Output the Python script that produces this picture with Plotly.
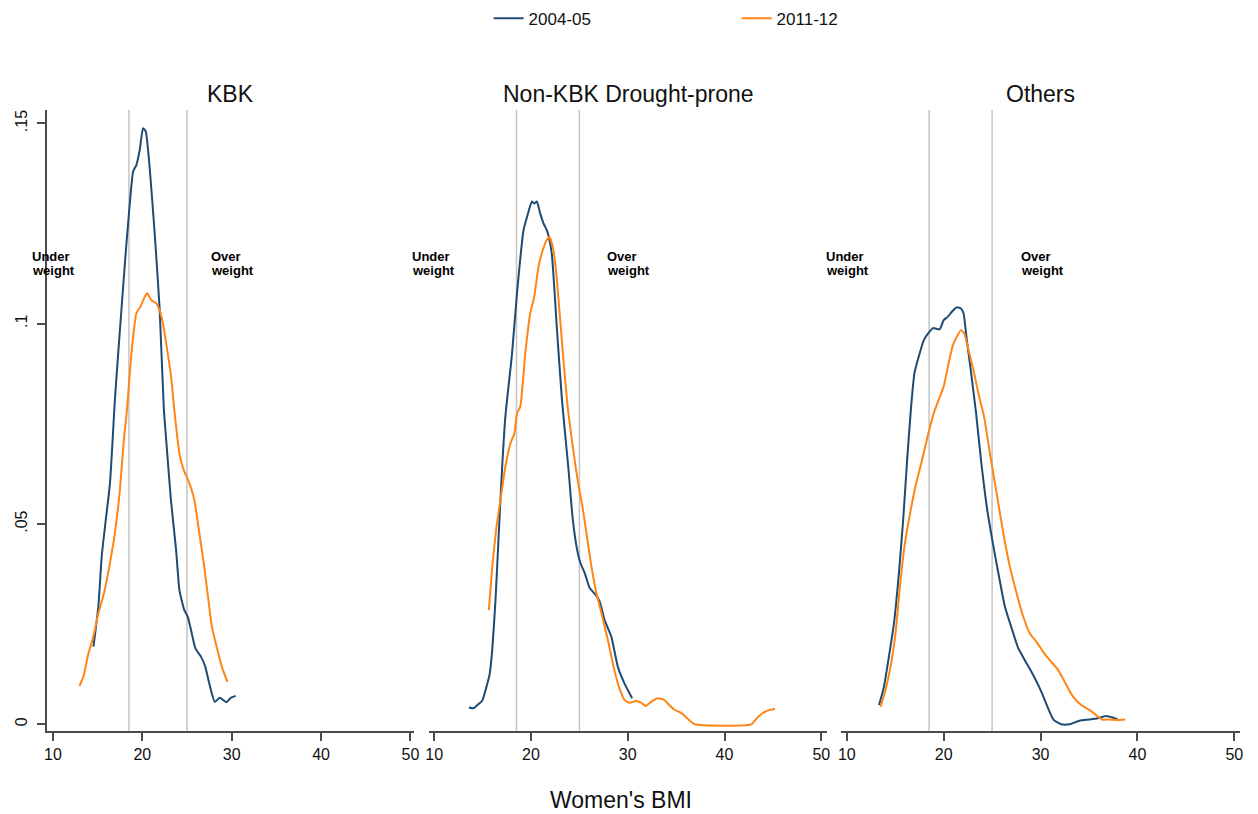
import plotly.graph_objects as go

# ---------------- data ----------------
panels = ["KBK", "Non-KBK Drought-prone", "Others"]
series_names = ["2004-05", "2011-12"]
cutoffs = [18.5, 25]
x_ticks = [10, 20, 30, 40, 50]
y_ticks = [0, 0.05, 0.1, 0.15]
y_ticktext = ["0", ".05", ".1", ".15"]

kbk_0405_bmi = [14.53, 15.08, 15.45, 15.82, 16.38, 16.93, 17.3, 18.08, 18.52, 18.97, 19.33, 19.71, 20.08,
                20.38, 20.82, 21.38, 21.93, 22.4, 22.67, 23.2, 23.78, 24.15, 24.7, 25.08, 25.45, 25.93,
                26.56, 27.04, 27.49, 28.11, 28.67, 29.41, 29.89, 30.44]
kbk_0405_den = [0.0194, 0.0294, 0.0418, 0.0493, 0.0602, 0.081, 0.0926, 0.116, 0.128, 0.138, 0.1396, 0.1434,
                0.1488, 0.148, 0.139, 0.1226, 0.104, 0.079, 0.071, 0.056, 0.0435, 0.0335, 0.0285, 0.0269,
                0.0235, 0.019, 0.0169, 0.0144, 0.0102, 0.0056, 0.0066, 0.0055, 0.0066, 0.0071]

kbk_1112_bmi = [12.97, 13.41, 13.97, 14.52, 15.08, 15.71, 16.3, 16.93, 17.49, 17.93, 18.26, 18.78, 19.33,
                19.78, 20.27, 20.56, 21.0, 21.56, 21.93, 22.3, 22.67, 23.22, 23.55, 23.78, 24.15, 24.63,
                25.27, 25.82, 26.38, 26.93, 27.3, 27.78, 28.41, 28.89, 29.52]
kbk_1112_den = [0.0096, 0.0119, 0.0177, 0.0219, 0.0277, 0.0327, 0.0393, 0.0477, 0.0585, 0.071, 0.078,
                0.0926, 0.1026, 0.1042, 0.1067, 0.1076, 0.1059, 0.1051, 0.1034, 0.1001, 0.0951, 0.0868,
                0.079, 0.0743, 0.0676, 0.0635, 0.0602, 0.056, 0.0477, 0.0393, 0.0327, 0.0244, 0.0185,
                0.0144, 0.0106]

nkbk_0405_bmi = [13.59, 14.04, 14.45, 14.96, 15.4, 15.74, 15.99, 16.33, 16.67, 17.02, 17.35, 18.04, 18.55,
                 19.23, 19.64, 20.09, 20.33, 20.6, 20.94, 21.28, 21.69, 22.14, 22.66, 23.2, 23.85, 24.29,
                 24.71, 25.12, 25.56, 26.07, 26.69, 27.1, 27.61, 28.3, 28.97, 29.66, 30.45]
nkbk_0405_den = [0.0042, 0.004, 0.0048, 0.0059, 0.0094, 0.0127, 0.0185, 0.031, 0.0477, 0.0643, 0.0768,
                 0.0926, 0.1076, 0.1234, 0.1271, 0.1305, 0.13, 0.1305, 0.1276, 0.1251, 0.123, 0.1176,
                 0.0993, 0.081, 0.0643, 0.0518, 0.0443, 0.0402, 0.0377, 0.034, 0.0323, 0.0306, 0.026,
                 0.0219, 0.0144, 0.0102, 0.0065]

nkbk_1112_bmi = [15.64, 15.99, 16.43, 16.84, 17.35, 17.87, 18.28, 18.55, 18.89, 19.41, 19.92, 20.33, 20.77,
                 21.22, 21.63, 21.9, 22.25, 22.58, 22.99, 23.41, 23.8, 24.36, 24.87, 25.32, 25.73, 26.25,
                 26.76, 27.37, 27.95, 28.53, 29.08, 29.66, 30.17, 30.86, 31.37, 31.88, 32.4, 33.08, 33.76,
                 34.28, 34.79, 35.48, 36.15, 36.94, 42.76, 43.33, 44.02, 44.7, 45.22]
nkbk_1112_den = [0.0285, 0.0393, 0.0493, 0.056, 0.0643, 0.0701, 0.0726, 0.0776, 0.0793, 0.0926, 0.1026,
                 0.1067, 0.1142, 0.1184, 0.1209, 0.1217, 0.1192, 0.1134, 0.1017, 0.0893, 0.079, 0.0685,
                 0.0602, 0.0543, 0.0477, 0.0393, 0.0327, 0.0269, 0.021, 0.0144, 0.0094, 0.0061, 0.0054,
                 0.0058, 0.0054, 0.0046, 0.0056, 0.0065, 0.0061, 0.0048, 0.0037, 0.0029, 0.0015, 0.0,
                 0.0, 0.0015, 0.0029, 0.0036, 0.0038]

oth_0405_bmi = [13.33, 13.84, 14.35, 14.87, 15.38, 15.82, 16.23, 16.64, 16.98, 17.43, 17.95, 18.46, 18.9,
                19.59, 20.0, 20.41, 20.85, 21.37, 21.78, 22.05, 22.39, 22.8, 23.35, 23.93, 24.45, 24.96,
                25.65, 26.32, 27.19, 27.7, 28.38, 29.24, 30.09, 30.78, 31.36, 32.15, 33.0, 34.02, 35.05,
                35.91, 36.77, 37.45, 37.97]
oth_0405_den = [0.0048, 0.0094, 0.0169, 0.0252, 0.0377, 0.051, 0.066, 0.0793, 0.0876, 0.0918, 0.0959,
                0.0978, 0.0989, 0.0986, 0.1009, 0.1017, 0.103, 0.1041, 0.1038, 0.1026, 0.0959, 0.0884,
                0.0776, 0.0643, 0.0543, 0.0468, 0.0377, 0.0294, 0.0227, 0.019, 0.016, 0.0123, 0.0081,
                0.004, 0.0011, 0.0, 0.0, 0.0009, 0.0012, 0.0015, 0.0021, 0.0017, 0.0012]

oth_1112_bmi = [13.49, 14.0, 14.52, 15.03, 15.48, 15.95, 16.41, 17.08, 17.77, 18.46, 18.97, 19.49, 20.0,
                20.51, 20.96, 21.37, 21.78, 22.12, 22.57, 23.08, 23.59, 24.17, 24.78, 25.47, 26.16, 26.84,
                27.53, 28.21, 28.89, 29.58, 30.27, 30.95, 31.81, 32.49, 33.35, 34.2, 35.05, 35.74, 36.36,
                37.11, 37.97, 38.75]
oth_1112_den = [0.0044, 0.0086, 0.0144, 0.0227, 0.0343, 0.0443, 0.051, 0.0593, 0.066, 0.073, 0.0776,
                0.081, 0.0843, 0.0901, 0.0947, 0.0968, 0.0984, 0.0976, 0.0934, 0.0884, 0.0826, 0.0768,
                0.0676, 0.0577, 0.0477, 0.0393, 0.0327, 0.0269, 0.0227, 0.0206, 0.0181, 0.016, 0.0136,
                0.0106, 0.0069, 0.0048, 0.0036, 0.0023, 0.0012, 0.0012, 0.0011, 0.0012]

curves = [
    [(kbk_0405_bmi, kbk_0405_den), (kbk_1112_bmi, kbk_1112_den)],
    [(nkbk_0405_bmi, nkbk_0405_den), (nkbk_1112_bmi, nkbk_1112_den)],
    [(oth_0405_bmi, oth_0405_den), (oth_1112_bmi, oth_1112_den)],
]

# ---------------- styling / layout ----------------
W, H = 1258, 814
colors = ["#1f4a72", "#ff8516"]
FONT = "Liberation Sans, Arial, sans-serif"
AXIS_COLOR = "#4a4a4a"

# plot-region pixel extents (left, right) for each panel, and shared top/bottom
px_domains = [(43, 413), (428, 829), (843, 1245)]
x_ranges = [[9.3, 50.4], [9.45, 50.6], [9.4, 50.6]]
top_px, bottom_px = 110, 731
y_range = [-0.00167, 0.15335]

fig = go.Figure()

for i, panel_curves in enumerate(curves):
    sfx = "" if i == 0 else str(i + 1)
    for j, (xs, ys) in enumerate(panel_curves):
        fig.add_trace(go.Scatter(
            x=xs, y=ys, mode="lines", name=series_names[j],
            line=dict(color=colors[j], width=2, shape="spline", smoothing=0.5),
            xaxis="x" + sfx, yaxis="y" + sfx,
            showlegend=(i == 0), legendrank=j + 1,
        ))

ydom = [(H - bottom_px) / H, (H - top_px) / H]
layout = dict(
    width=W, height=H,
    margin=dict(l=0, r=0, t=0, b=0),
    paper_bgcolor="white", plot_bgcolor="white",
    font=dict(family=FONT, color="#111111"),
    showlegend=True,
    legend=dict(orientation="h", x=0.388, xanchor="left", y=0.999, yanchor="top",
                font=dict(size=17, family=FONT, color="#111111"),
                entrywidth=203, entrywidthmode="pixels", itemwidth=30,
                traceorder="normal"),
)

for i in range(3):
    sfx = "" if i == 0 else str(i + 1)
    l, r = px_domains[i]
    layout["xaxis" + sfx] = dict(
        domain=[l / W, r / W], range=x_ranges[i], anchor="y" + sfx,
        tickvals=x_ticks, ticks="outside", ticklen=8, tickwidth=1.5, tickcolor=AXIS_COLOR,
        showline=True, linecolor=AXIS_COLOR, linewidth=1.5,
        showgrid=False, zeroline=False,
        tickfont=dict(size=16, family=FONT, color="#111111"),
    )
    ydict = dict(domain=ydom, range=y_range, anchor="x" + sfx,
                 showgrid=False, zeroline=False)
    if i == 0:
        ydict.update(
            tickvals=y_ticks, ticktext=y_ticktext, ticks="outside", ticklen=8,
            tickwidth=1.5, tickcolor=AXIS_COLOR, tickangle=-90,
            showline=True, linecolor=AXIS_COLOR, linewidth=1.5,
            tickfont=dict(size=16, family=FONT, color="#111111"),
            ticklabelstandoff=4,
        )
    else:
        ydict.update(visible=False)
    layout["yaxis" + sfx] = ydict

fig.update_layout(**layout)

# cutoff reference lines
shapes = []
for i in range(3):
    sfx = "" if i == 0 else str(i + 1)
    for c in cutoffs:
        shapes.append(dict(type="line", xref="x" + sfx, yref="y" + sfx + " domain",
                           x0=c, x1=c, y0=0, y1=1, layer="below",
                           line=dict(color="#c4c4c4", width=1.5)))
fig.update_layout(shapes=shapes)

annotations = []
# panel titles
for i, name in enumerate(panels):
    sfx = "" if i == 0 else str(i + 1)
    annotations.append(dict(text=name, xref="x" + sfx + " domain", x=0.5, yref="paper",
                            y=(H - 94) / H, xanchor="center", yanchor="middle", showarrow=False,
                            font=dict(size=23, family=FONT, color="#111111")))
# Under / Over weight labels (left edges in pixels)
under_px = [26, 409, 826]
over_px = [206, 605, 1022]
for i in range(3):
    for px, words in ((under_px[i], ("Under", "weight")), (over_px[i], ("Over", "weight"))):
        for word, ypx in zip(words, (256.5, 270)):
            annotations.append(dict(text="<b>" + word + "</b>", xref="paper", x=px / W,
                                    yref="paper", y=(H - ypx) / H, xanchor="left", yanchor="middle",
                                    showarrow=False, font=dict(size=13, family=FONT, color="#000000")))
# x-axis title
annotations.append(dict(text="Women's BMI", xref="paper", x=621 / W, yref="paper", y=(H - 800) / H,
                        xanchor="center", yanchor="middle", showarrow=False,
                        font=dict(size=23, family=FONT, color="#111111")))
fig.update_layout(annotations=annotations)

fig.write_html("out.html", config={"displayModeBar": False},
               post_script="document.body.style.margin='0';document.body.style.overflow='hidden';")
